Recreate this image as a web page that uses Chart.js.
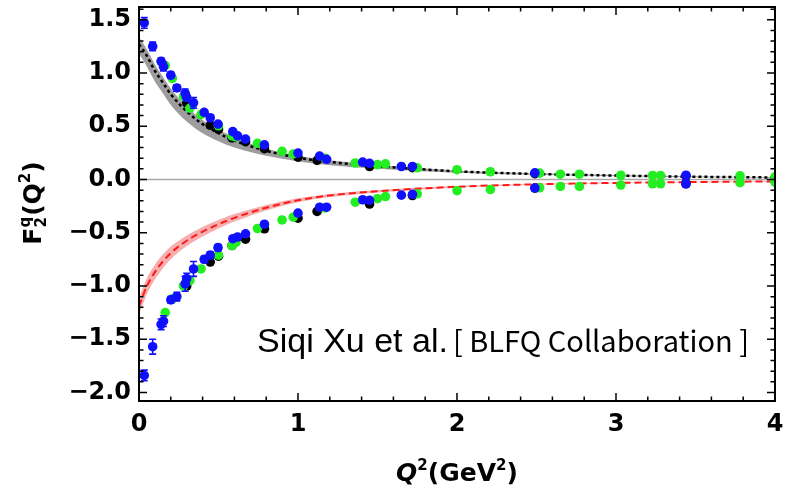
<html>
<head>
<script src="https://cdn.jsdelivr.net/npm/chart.js@4.4.0/dist/chart.umd.min.js"></script>
<style>
  body { margin: 0; background: #fff; }
  #wrap { width: 794px; height: 497px; position: relative; }
</style>
</head>
<body>
<div id="wrap"><canvas id="myChart"></canvas></div>
<script>
  // axis ticks
  var xTicks = [0, 1, 2, 3, 4];
  var yTicks = [-2.0, -1.5, -1.0, -0.5, 0.0, 0.5, 1.0, 1.5];

  // model curves (black = positive, red = negative)
  var curveX   = [0, 0.05, 0.1, 0.15, 0.2, 0.3, 0.4, 0.5, 0.6, 0.8, 1.0, 1.2, 1.5, 2.0, 2.5, 3.0, 3.5, 4.0];
  var blackMid = [1.27, 1.16, 1.02, 0.91, 0.80, 0.64, 0.52, 0.435, 0.365, 0.27, 0.205, 0.165, 0.125, 0.077, 0.052, 0.037, 0.026, 0.019];
  var blackHi  = [1.34, 1.22, 1.08, 0.965, 0.855, 0.685, 0.56, 0.47, 0.395, 0.292, 0.224, 0.18, 0.137, 0.085, 0.058, 0.042, 0.031, 0.023];
  var blackLo  = [1.18, 1.06, 0.92, 0.81, 0.70, 0.545, 0.435, 0.36, 0.30, 0.222, 0.17, 0.135, 0.102, 0.064, 0.044, 0.031, 0.021, 0.015];
  var redMid   = [-1.19, -1.0, -0.87, -0.77, -0.69, -0.575, -0.49, -0.42, -0.36, -0.265, -0.195, -0.15, -0.11, -0.068, -0.045, -0.032, -0.024, -0.018];
  var redHi    = [-1.11, -0.925, -0.80, -0.705, -0.63, -0.525, -0.445, -0.38, -0.325, -0.24, -0.176, -0.135, -0.098, -0.06, -0.04, -0.028, -0.02, -0.014];
  var redLo    = [-1.27, -1.075, -0.94, -0.835, -0.75, -0.625, -0.535, -0.46, -0.395, -0.29, -0.214, -0.165, -0.122, -0.076, -0.05, -0.036, -0.028, -0.022];

  // lattice points: blue (with error bars), green, black
  var blueX   = [0.033, 0.086, 0.139, 0.154, 0.20, 0.238, 0.29, 0.30, 0.343, 0.41, 0.448, 0.497, 0.59, 0.62, 0.67, 0.789, 1.0, 1.136, 1.18, 1.407, 1.45, 1.65, 1.72, 2.49, 3.44];
  var blueUp  = [1.47, 1.25, 1.11, 1.06, 0.98, 0.86, 0.81, 0.77, 0.72, 0.63, 0.58, 0.52, 0.45, 0.41, 0.38, 0.325, 0.248, 0.22, 0.19, 0.163, 0.152, 0.122, 0.122, 0.062, 0.040];
  var blueUpErr = [0.05, 0.04, 0.03, 0.04, 0.03, 0.03, 0.04, 0.03, 0.05, 0.02, 0.02, 0.02, 0.02, 0.02, 0.02, 0.02, 0.015, 0.01, 0.01, 0.01, 0.01, 0.01, 0.01, 0, 0];
  var blueDn  = [-1.84, -1.57, -1.36, -1.33, -1.13, -1.10, -0.98, -0.93, -0.84, -0.75, -0.71, -0.64, -0.556, -0.54, -0.51, -0.42, -0.316, -0.26, -0.26, -0.19, -0.195, -0.147, -0.14, -0.08, -0.04];
  var blueDnErr = [0.05, 0.07, 0.05, 0.05, 0.03, 0.04, 0.07, 0.05, 0.07, 0.03, 0.03, 0.03, 0.02, 0.02, 0.02, 0.02, 0.01, 0.01, 0.01, 0.01, 0.01, 0.01, 0.01, 0, 0];

  var greenX  = [0.165, 0.21, 0.28, 0.32, 0.39, 0.50, 0.585, 0.61, 0.745, 0.90, 0.97, 1.17, 1.36, 1.50, 1.55, 1.75, 2.0, 2.21, 2.52, 2.65, 2.77, 3.03, 3.23, 3.28, 3.78, 4.0];
  var greenUp = [1.07, 0.95, 0.78, 0.67, 0.61, 0.505, 0.41, 0.40, 0.34, 0.265, 0.24, 0.20, 0.155, 0.14, 0.147, 0.11, 0.092, 0.073, 0.06, 0.05, 0.05, 0.04, 0.038, 0.038, 0.035, 0.025];
  var greenDn = [-1.25, -1.12, -1.0, -0.95, -0.84, -0.71, -0.62, -0.59, -0.46, -0.38, -0.354, -0.266, -0.213, -0.18, -0.16, -0.134, -0.105, -0.094, -0.078, -0.065, -0.065, -0.052, -0.04, -0.04, -0.03, -0.025];

  var blackX  = [0.30, 0.448, 0.50, 0.585, 0.67, 0.789, 1.0, 1.12, 1.45, 1.72, 2.49, 3.44];
  var blackUp = [0.72, 0.51, 0.47, 0.39, 0.355, 0.29, 0.21, 0.18, 0.122, 0.112, 0.055, 0.032];
  var blackDn = [-1.0, -0.775, -0.72, -0.62, -0.56, -0.463, -0.363, -0.30, -0.23, -0.15, -0.08, -0.04];

  function pts(xs, ys) {
    return xs.map(function (x, i) { return { x: x, y: ys[i] }; });
  }

  var tickFont = { family: 'DejaVu Sans', size: 24, weight: 'bold' };

  function pointSet(xs, ys, color, order) {
    return {
      type: 'scatter', data: pts(xs, ys), order: order,
      pointRadius: 4.8, pointBackgroundColor: color, pointBorderWidth: 0, showLine: false
    };
  }
  function curve(ys, color, dash, width, order) {
    return {
      data: pts(curveX, ys), order: order, borderColor: color, borderWidth: width,
      borderDash: dash, pointRadius: 0, fill: false, cubicInterpolationMode: 'monotone'
    };
  }
  function band(ys, fillTo, color, order) {
    return {
      data: pts(curveX, ys), order: order, borderWidth: 0, borderColor: 'transparent',
      backgroundColor: color, pointRadius: 0, fill: fillTo, cubicInterpolationMode: 'monotone'
    };
  }

  var blueErrs = [blueUpErr, blueDnErr];

  var framePlugin = {
    id: 'frame',
    beforeDatasetsDraw: function (chart) {
      var c = chart.ctx, a = chart.chartArea, y0 = chart.scales.y.getPixelForValue(0);
      c.save();
      c.strokeStyle = '#aaaaaa'; c.lineWidth = 1.5;
      c.beginPath(); c.moveTo(a.left, y0); c.lineTo(a.right, y0); c.stroke();
      c.restore();
    },
    afterDatasetsDraw: function (chart) {
      var c = chart.ctx, a = chart.chartArea, sx = chart.scales.x, sy = chart.scales.y;
      c.save();
      // error bars on blue points
      c.strokeStyle = '#1010ff'; c.lineWidth = 1.6;
      [0, 1].forEach(function (k) {
        var ys = k === 0 ? blueUp : blueDn, es = blueErrs[k];
        blueX.forEach(function (x, i) {
          if (!es[i]) return;
          var px = sx.getPixelForValue(x);
          var p1 = sy.getPixelForValue(ys[i] + es[i]), p2 = sy.getPixelForValue(ys[i] - es[i]);
          c.beginPath();
          c.moveTo(px, p1); c.lineTo(px, p2);
          c.moveTo(px - 3.5, p1); c.lineTo(px + 3.5, p1);
          c.moveTo(px - 3.5, p2); c.lineTo(px + 3.5, p2);
          c.stroke();
        });
      });
      // inward ticks on all four sides
      c.strokeStyle = '#000'; c.lineWidth = 1.5;
      c.beginPath();
      for (var i = 0; i <= 20; i++) {
        var v = i * 0.2, px = sx.getPixelForValue(v), len = (i % 5 === 0) ? 8 : 4.5;
        c.moveTo(px, a.bottom); c.lineTo(px, a.bottom - len);
        c.moveTo(px, a.top); c.lineTo(px, a.top + len);
      }
      for (var j = -20; j <= 16; j++) {
        var vy = j * 0.1, py = sy.getPixelForValue(vy), ly = (j % 5 === 0) ? 8 : 4.5;
        if (py < a.top || py > a.bottom) continue;
        c.moveTo(a.left, py); c.lineTo(a.left + ly, py);
        c.moveTo(a.right, py); c.lineTo(a.right - ly, py);
      }
      c.stroke();
      c.lineWidth = 2;
      c.strokeRect(a.left, a.top, a.right - a.left, a.bottom - a.top);
      c.restore();
    },
    afterDraw: function (chart) {
      var c = chart.ctx;
      c.save();
      c.fillStyle = '#000';
      // annotation
      c.textBaseline = 'alphabetic'; c.textAlign = 'left';
      c.font = '34px "Liberation Sans"';
      c.fillText('Siqi Xu et al.', 257, 352);
      c.font = '29px "Noto Sans CJK SC"';
      c.fillText('[ BLFQ Collaboration ]', 453, 352);

      // x axis title Q^2(GeV^2)
      var big = 'bold 25px "DejaVu Sans"', bigI = 'italic bold 25px "DejaVu Sans"', sm = 'bold 15px "DejaVu Sans"';
      var parts = [[bigI, 'Q', 0], [sm, '2', -11], [big, '(GeV', 0], [sm, '2', -11], [big, ')', 0]];
      var w = 0;
      parts.forEach(function (p) { c.font = p[0]; w += c.measureText(p[1]).width; });
      var x = 457 - w / 2, base = 481;
      parts.forEach(function (p) { c.font = p[0]; c.fillText(p[1], x, base + p[2]); x += c.measureText(p[1]).width; });

      // y axis title F_2^q(Q^2)
      c.translate(41, 203); c.rotate(-Math.PI / 2);
      c.font = big; var wF = c.measureText('F').width;
      c.font = sm; var wS = Math.max(c.measureText('2').width, c.measureText('q').width);
      c.font = big; var wQ = c.measureText('(Q').width, wP = c.measureText(')').width;
      c.font = sm; var w2 = c.measureText('2').width;
      var tot = wF + wS + 1 + wQ + w2 + wP, xx = -tot / 2;
      c.font = big; c.fillText('F', xx, 0); xx += wF;
      c.font = sm; c.fillText('2', xx, 5); c.fillText('q', xx, -11); xx += wS + 1;
      c.font = big; c.fillText('(Q', xx, 0); xx += wQ;
      c.font = sm; c.fillText('2', xx, -11); xx += w2;
      c.font = big; c.fillText(')', xx, 0);
      c.restore();
    }
  };

  var ctx = document.getElementById('myChart').getContext('2d');
  var chart = new Chart(ctx, {
    type: 'line',
    data: {
      datasets: [
        pointSet(blueX, blueUp, '#1010ff', 1),
        pointSet(blueX, blueDn, '#1010ff', 1),
        pointSet(greenX, greenUp, '#22ee22', 2),
        pointSet(greenX, greenDn, '#22ee22', 2),
        pointSet(blackX, blackUp, '#000000', 3),
        pointSet(blackX, blackDn, '#000000', 3),
        curve(blackMid, '#000000', [3, 3], 2.5, 5),
        curve(redMid, '#ff1a1a', [7, 4], 2, 5),
        band(blackHi, false, 'rgba(140,140,140,0.85)', 10),
        band(blackLo, '-1', 'rgba(140,140,140,0.85)', 10),
        band(redHi, false, 'rgba(240,120,120,0.6)', 10),
        band(redLo, '-1', 'rgba(240,120,120,0.6)', 10)
      ]
    },
    options: {
      animation: false,
      responsive: true,
      maintainAspectRatio: false,
      devicePixelRatio: 1,
      layout: { padding: { top: 7, right: 19, left: 0, bottom: 0 } },
      plugins: { legend: { display: false }, tooltip: { enabled: false } },
      scales: {
        x: {
          type: 'linear', min: 0, max: 4,
          afterBuildTicks: function (s) { s.ticks = xTicks.map(function (v) { return { value: v }; }); },
          afterFit: function (s) { s.height = 96; s.paddingLeft = 0; s.paddingRight = 0; },
          grid: { display: false, drawTicks: false }, border: { display: false },
          ticks: { font: tickFont, color: '#000', padding: 9, maxRotation: 0,
                   callback: function (v) { return String(v); } }
        },
        y: {
          type: 'linear', min: -2.08, max: 1.62,
          afterBuildTicks: function (s) { s.ticks = yTicks.map(function (v) { return { value: v }; }); },
          afterFit: function (s) { s.width = 139; s.paddingTop = 0; s.paddingBottom = 0; },
          grid: { display: false, drawTicks: false }, border: { display: false },
          ticks: { font: tickFont, color: '#000', padding: 8,
                   callback: function (v) { return v.toFixed(1).replace('-', '\u2212'); } }
        }
      }
    },
    plugins: [framePlugin]
  });
</script>
</body>
</html>
